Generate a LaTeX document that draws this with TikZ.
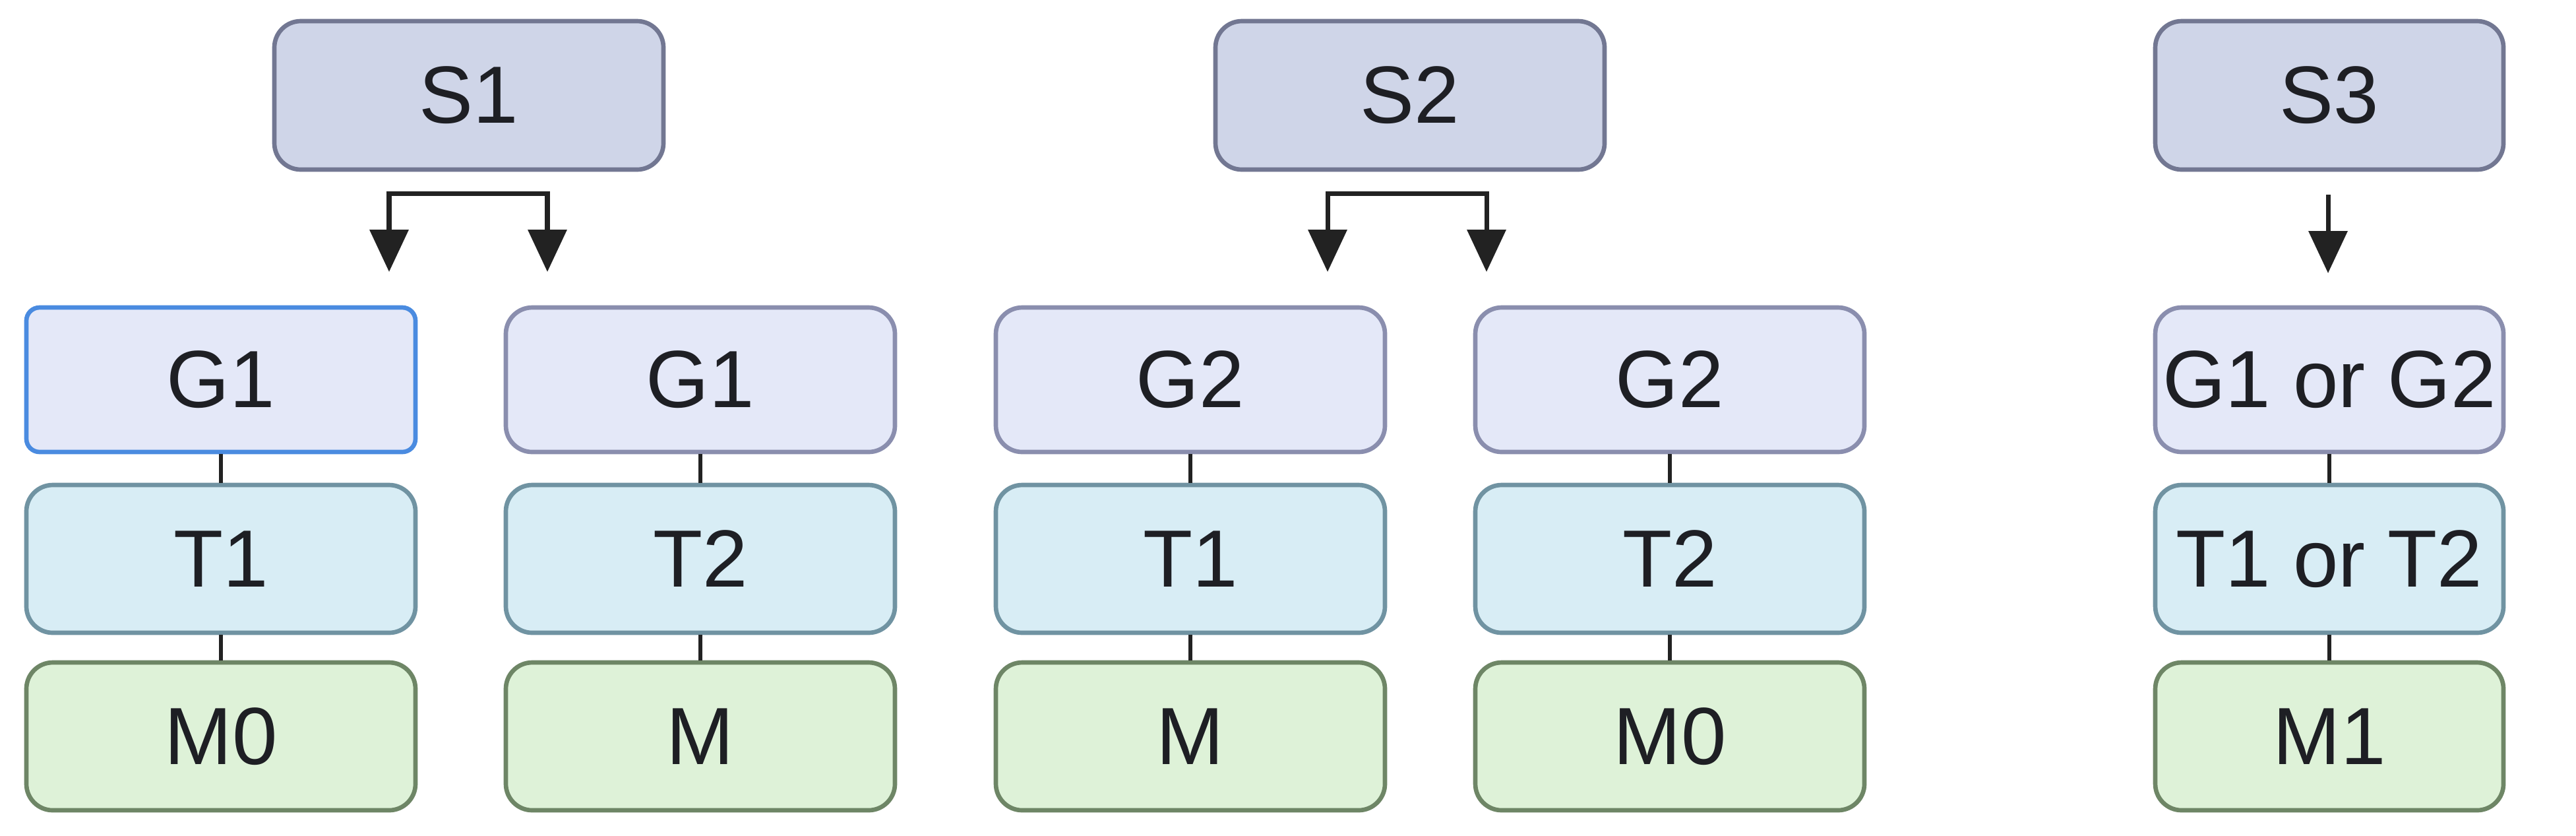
\documentclass[tikz,border=0pt]{standalone}
\usepackage{fontspec}
\setmainfont{Liberation Sans}
\usetikzlibrary{arrows.meta}
\definecolor{txt}{HTML}{1E1F24}
\definecolor{sfill}{HTML}{CFD5E8}
\definecolor{sdraw}{HTML}{727792}
\definecolor{gfill}{HTML}{E4E8F8}
\definecolor{gdraw}{HTML}{8A8EAE}
\definecolor{tfill}{HTML}{D8EDF5}
\definecolor{tdraw}{HTML}{7093A2}
\definecolor{mfill}{HTML}{DEF2D8}
\definecolor{mdraw}{HTML}{6E8666}
\definecolor{selblue}{HTML}{4A8BE0}
\definecolor{linec}{HTML}{222222}
\begin{document}
\begin{tikzpicture}[x=1cm,y=-1cm,
  box/.style={rounded corners=0.4cm, line width=1.9pt, minimum width=5.9cm,
    minimum height=2.22cm, inner sep=0pt, text=txt,
    font=\fontsize{35}{40}\selectfont},
  sbox/.style={box, fill=sfill, draw=sdraw, minimum height=2.25cm},
  gbox/.style={box, fill=gfill, draw=gdraw, minimum height=2.19cm},
  tbox/.style={box, fill=tfill, draw=tdraw, minimum height=2.24cm},
  mbox/.style={box, fill=mfill, draw=mdraw, minimum height=2.24cm},
  narrow/.style={minimum width=5.28cm},
  link/.style={draw=linec, line width=1.7pt},
  arr/.style={draw=linec, line width=2pt, line join=miter},
  tipend/.style={-{Triangle[width=0.58cm,length=0.64cm]}},
  tipboth/.style={{Triangle[width=0.58cm,length=0.64cm]}-{Triangle[width=0.58cm,length=0.64cm]}}
]
\useasboundingbox (0,0) rectangle (39.06,12.66);

% top boxes
\node[sbox] (S1) at (7.11,1.445) {S1};
\node[sbox] (S2) at (21.38,1.445) {S2};
\node[sbox, narrow] (S3) at (35.32,1.445) {S3};

% column 1
\node[gbox, draw=selblue, rounded corners=0.2cm] (G1a) at (3.35,5.755) {G1};
\node[tbox] (T1a) at (3.35,8.47) {T1};
\node[mbox] (M1a) at (3.35,11.16) {M0};
% column 2
\node[gbox] (G1b) at (10.62,5.755) {G1};
\node[tbox] (T2b) at (10.62,8.47) {T2};
\node[mbox] (M2b) at (10.62,11.16) {M};
% column 3
\node[gbox] (G2c) at (18.05,5.755) {G2};
\node[tbox] (T1c) at (18.05,8.47) {T1};
\node[mbox] (M3c) at (18.05,11.16) {M};
% column 4
\node[gbox] (G2d) at (25.32,5.755) {G2};
\node[tbox] (T2d) at (25.32,8.47) {T2};
\node[mbox] (M4d) at (25.32,11.16) {M0};
% column 5
\node[gbox, narrow] (G5) at (35.32,5.755) {G1 or G2};
\node[tbox, narrow] (T5) at (35.32,8.47) {T1 or T2};
\node[mbox, narrow] (M5) at (35.32,11.16) {M1};

% vertical links
\foreach \g/\t/\m in {G1a/T1a/M1a, G1b/T2b/M2b, G2c/T1c/M3c, G2d/T2d/M4d, G5/T5/M5}{
  \draw[link] (\g.south) -- (\t.north);
  \draw[link] (\t.south) -- (\m.north);
}

% split arrows
\coordinate (b1) at (7.10,2.93);
\coordinate (t1l) at (5.90,4.12);
\coordinate (t1r) at (8.30,4.12);
\draw[arr, tipboth] (t1l) |- (b1) -| (t1r);

\coordinate (b2) at (21.33,2.93);
\coordinate (t2l) at (20.13,4.12);
\coordinate (t2r) at (22.54,4.12);
\draw[arr, tipboth] (t2l) |- (b2) -| (t2r);

\coordinate (a3) at (35.30,2.95);
\coordinate (t3) at (35.30,4.14);
\draw[arr, tipend] (a3) -- (t3);
\end{tikzpicture}
\end{document}
